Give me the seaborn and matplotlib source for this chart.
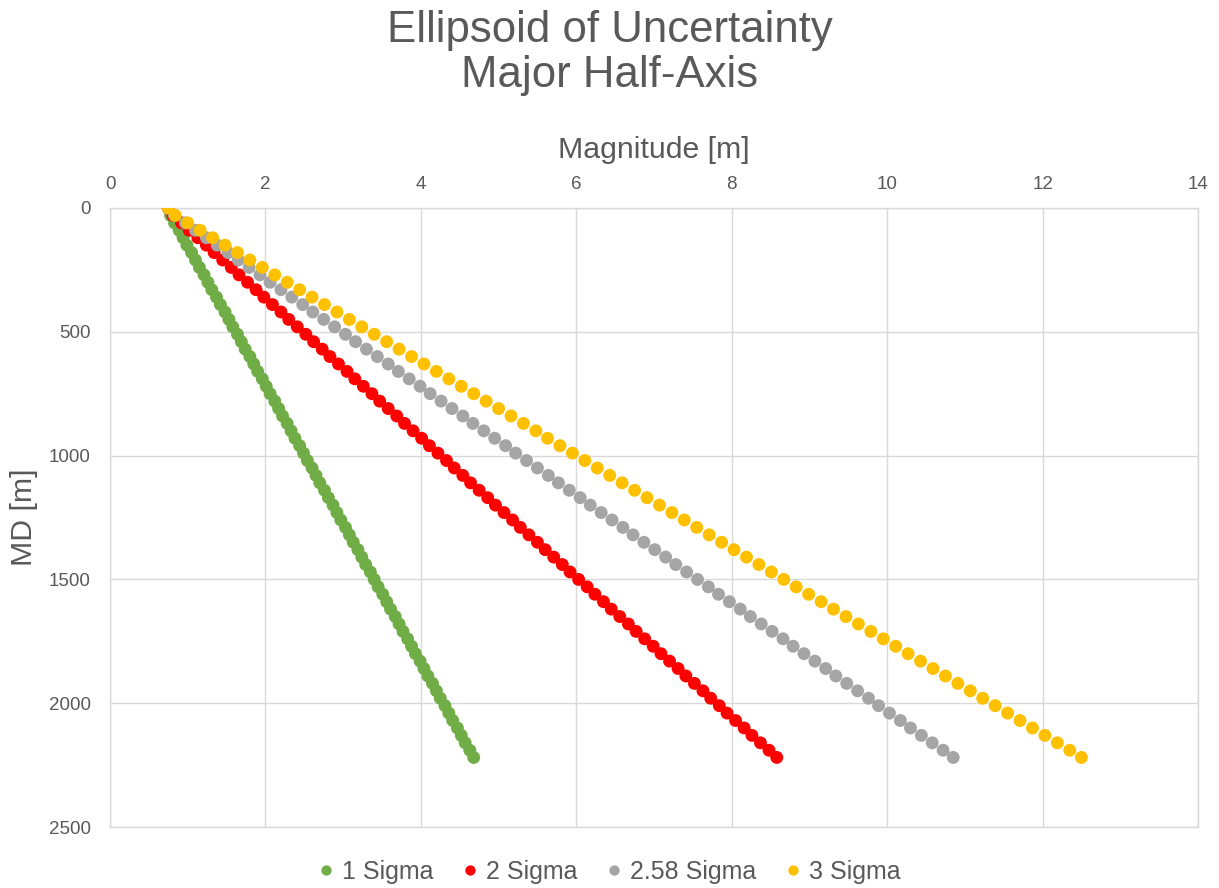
import matplotlib
matplotlib.use("Agg")
import matplotlib.pyplot as plt
from matplotlib.lines import Line2D
import pandas as pd
import seaborn as sns

# Measured depth stations [m]
md = [0, 30, 60, 90, 120, 150, 180, 210, 240, 270,
      300, 330, 360, 390, 420, 450, 480, 510, 540, 570,
      600, 630, 660, 690, 720, 750, 780, 810, 840, 870,
      900, 930, 960, 990, 1020, 1050, 1080, 1110, 1140, 1170,
      1200, 1230, 1260, 1290, 1320, 1350, 1380, 1410, 1440, 1470,
      1500, 1530, 1560, 1590, 1620, 1650, 1680, 1710, 1740, 1770,
      1800, 1830, 1860, 1890, 1920, 1950, 1980, 2010, 2040, 2070,
      2100, 2130, 2160, 2190, 2219]

# Major half-axis of the uncertainty ellipsoid [m] per confidence level
sigma_1 = [0.75, 0.78, 0.83, 0.89, 0.94, 0.99, 1.05, 1.10, 1.15, 1.21,
           1.26, 1.31, 1.37, 1.42, 1.48, 1.53, 1.58, 1.64, 1.69, 1.74,
           1.80, 1.85, 1.90, 1.96, 2.01, 2.06, 2.12, 2.17, 2.22, 2.28,
           2.33, 2.38, 2.44, 2.49, 2.54, 2.60, 2.65, 2.70, 2.76, 2.81,
           2.87, 2.92, 2.97, 3.03, 3.08, 3.13, 3.19, 3.24, 3.29, 3.35,
           3.40, 3.45, 3.51, 3.56, 3.61, 3.67, 3.72, 3.77, 3.83, 3.88,
           3.93, 3.99, 4.04, 4.09, 4.15, 4.20, 4.25, 4.31, 4.36, 4.41,
           4.47, 4.52, 4.57, 4.63, 4.68]

sigma_2 = [0.75, 0.81, 0.92, 1.02, 1.13, 1.24, 1.34, 1.45, 1.56, 1.66,
           1.77, 1.88, 1.98, 2.09, 2.20, 2.30, 2.41, 2.52, 2.62, 2.73,
           2.83, 2.94, 3.05, 3.15, 3.26, 3.37, 3.47, 3.58, 3.69, 3.79,
           3.90, 4.01, 4.11, 4.22, 4.33, 4.43, 4.54, 4.64, 4.75, 4.86,
           4.96, 5.07, 5.18, 5.28, 5.39, 5.50, 5.60, 5.71, 5.82, 5.92,
           6.03, 6.14, 6.24, 6.35, 6.45, 6.56, 6.67, 6.77, 6.88, 6.99,
           7.09, 7.20, 7.31, 7.41, 7.52, 7.63, 7.73, 7.84, 7.94, 8.05,
           8.16, 8.26, 8.37, 8.48, 8.58]

sigma_258 = [0.75, 0.83, 0.97, 1.10, 1.24, 1.38, 1.52, 1.65, 1.79, 1.93,
             2.06, 2.20, 2.34, 2.48, 2.61, 2.75, 2.89, 3.03, 3.16, 3.30,
             3.44, 3.58, 3.71, 3.85, 3.99, 4.12, 4.26, 4.40, 4.54, 4.67,
             4.81, 4.95, 5.09, 5.22, 5.36, 5.50, 5.64, 5.77, 5.91, 6.05,
             6.18, 6.32, 6.46, 6.60, 6.73, 6.87, 7.01, 7.15, 7.28, 7.42,
             7.56, 7.70, 7.83, 7.97, 8.11, 8.24, 8.38, 8.52, 8.66, 8.79,
             8.93, 9.07, 9.21, 9.34, 9.48, 9.62, 9.76, 9.89, 10.03, 10.17,
             10.30, 10.44, 10.58, 10.72, 10.85]

sigma_3 = [0.75, 0.84, 1.00, 1.16, 1.32, 1.48, 1.64, 1.80, 1.96, 2.12,
           2.28, 2.44, 2.60, 2.76, 2.92, 3.08, 3.24, 3.40, 3.56, 3.72,
           3.88, 4.04, 4.20, 4.36, 4.52, 4.68, 4.84, 5.00, 5.16, 5.32,
           5.48, 5.63, 5.79, 5.95, 6.11, 6.27, 6.43, 6.59, 6.75, 6.91,
           7.07, 7.23, 7.39, 7.55, 7.71, 7.87, 8.03, 8.19, 8.35, 8.51,
           8.67, 8.83, 8.99, 9.15, 9.31, 9.47, 9.63, 9.79, 9.95, 10.11,
           10.27, 10.43, 10.59, 10.75, 10.91, 11.07, 11.23, 11.39, 11.55, 11.71,
           11.87, 12.03, 12.19, 12.35, 12.50]

series_names = ["1 Sigma", "2 Sigma", "2.58 Sigma", "3 Sigma"]
series_values = [sigma_1, sigma_2, sigma_258, sigma_3]
series_colors = ["#70AD47", "#FF0000", "#A5A5A5", "#FFC000"]

x_ticks = [0, 2, 4, 6, 8, 10, 12, 14]
y_ticks = [0, 500, 1000, 1500, 2000, 2500]

# Long-form table; row order sets the drawing order (3 Sigma on top)
frames = [pd.DataFrame({"Magnitude": vals, "MD": md, "Series": name})
          for name, vals in zip(series_names, series_values)]
df = pd.concat(frames, ignore_index=True)

sns.set_theme(style="white")
plt.rcParams["font.family"] = ["Liberation Sans", "DejaVu Sans"]
text_color = "#595959"
grid_color = "#D9D9D9"

W, H = 1219, 888
fig = plt.figure(figsize=(W / 100, H / 100), dpi=100)
ax = fig.add_axes([110 / W, 1 - 827 / H, (1198 - 110) / W, (827 - 208) / H])

palette = dict(zip(series_names, series_colors))
sns.scatterplot(data=df, x="Magnitude", y="MD", hue="Series",
                palette=palette, s=86, linewidth=0, legend=False, ax=ax,
                zorder=3)

ax.set_xlim(0, 14)
ax.set_ylim(2500, 0)
ax.set_xticks(x_ticks)
ax.set_yticks(y_ticks)
ax.xaxis.tick_top()
ax.tick_params(axis="both", length=0, labelsize=13.5, colors=text_color)
ax.tick_params(axis="x", pad=11)
ax.tick_params(axis="y", pad=14)
ax.grid(True, color=grid_color, linewidth=1.0)
ax.set_axisbelow(True)
for sp in ax.spines.values():
    sp.set_visible(True)
    sp.set_color(grid_color)
    sp.set_linewidth(1.0)
    sp.set_zorder(0.5)
ax.set_xlabel("")
ax.set_ylabel("")

# Chart title (two lines)
fig.text(0.5, 1 - 41.7 / H, "Ellipsoid of Uncertainty", ha="center",
         va="baseline", fontsize=31.5, color=text_color)
fig.text(0.5, 1 - 86.7 / H, "Major Half-Axis", ha="center",
         va="baseline", fontsize=31.5, color=text_color)

# Axis titles
fig.text(654 / W, 1 - 158.3 / H, "Magnitude [m]", ha="center",
         va="baseline", fontsize=21.8, color=text_color)
fig.text(24.5 / W, 1 - 517.5 / H, "MD [m]", ha="center", va="center",
         rotation=90, fontsize=21.8, color=text_color)

# Legend below the plot area
handles = [Line2D([0], [0], marker="o", linestyle="none", markersize=7.4,
                  markerfacecolor=c, markeredgewidth=0)
           for c in series_colors]
leg = fig.legend(handles, series_names, loc="center",
                 bbox_to_anchor=(0.5, 1 - 872 / H), ncol=4, frameon=False,
                 fontsize=18, handlelength=0.6, handletextpad=0.35,
                 columnspacing=1.15, borderpad=0)
for t in leg.get_texts():
    t.set_color(text_color)

fig.savefig("out.png", dpi=100, facecolor="white")
